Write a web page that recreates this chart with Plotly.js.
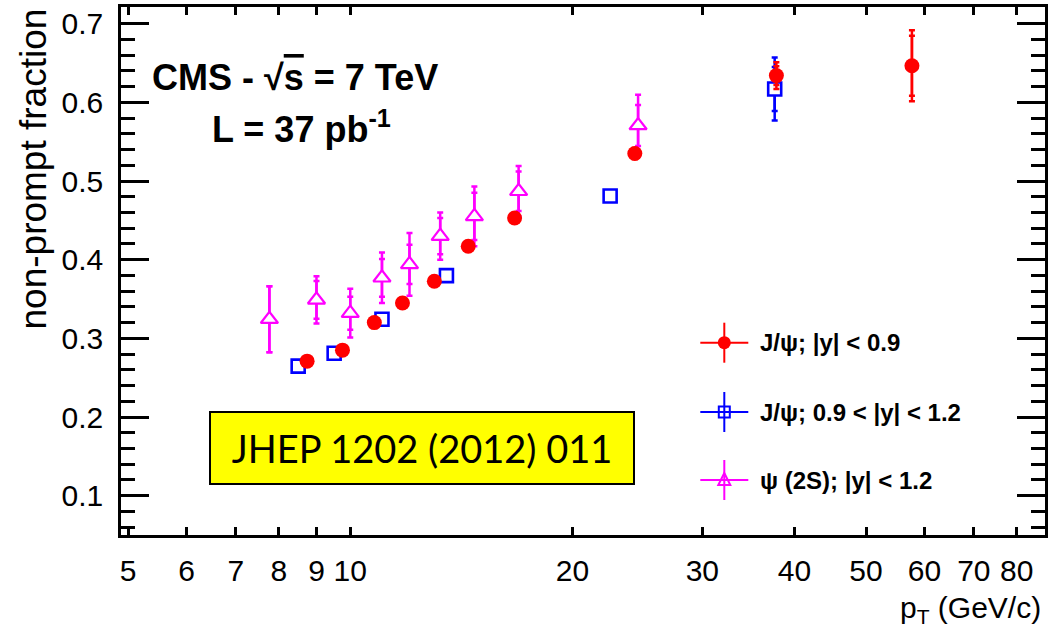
<!DOCTYPE html>
<html>
<head>
<meta charset="utf-8">
<script src="https://cdn.plot.ly/plotly-3.0.1.min.js"></script>
<style>
  html, body { margin: 0; padding: 0; background: #fff; }
  #chart { width: 1061px; height: 634px; }
</style>
</head>
<body>
<div id="chart"></div>
<script>
// ---- data ----
const seriesNames = ["J/ψ; |y| < 0.9", "J/ψ; 0.9 < |y| < 1.2", "ψ (2S); |y| < 1.2"];

const jpsiCentralPt   = [8.74, 9.76, 10.78, 11.77, 13.0, 14.45, 16.7, 24.3, 37.8, 57.7];
const jpsiCentralFrac = [0.271, 0.285, 0.320, 0.345, 0.3725, 0.417, 0.453, 0.535, 0.634, 0.6465];
const jpsiCentralTot  = [0.005, 0.005, 0.005, 0.005, 0.005, 0.006, 0.006, 0.007, 0.017, 0.045];
const jpsiCentralStat = [0.004, 0.004, 0.004, 0.004, 0.004, 0.005, 0.005, 0.006, 0.012, 0.038];

const jpsiFwdPt   = [8.50, 9.51, 11.04, 13.5, 22.5, 37.6];
const jpsiFwdFrac = [0.2647, 0.281, 0.3243, 0.3797, 0.481, 0.617];
const jpsiFwdTot  = [0.005, 0.005, 0.005, 0.006, 0.007, 0.040];
const jpsiFwdStat = [0.004, 0.004, 0.004, 0.005, 0.006, 0.028];

const psi2SPt   = [7.77, 9.0, 10.0, 11.04, 12.03, 13.24, 14.73, 16.91, 24.55];
const psi2SFrac = [0.3243, 0.349, 0.332, 0.377, 0.394, 0.430, 0.455, 0.487, 0.5706];
const psi2STot  = [0.042, 0.030, 0.031, 0.032, 0.040, 0.030, 0.038, 0.032, 0.039];
const psi2SStat = [0.042, 0.024, 0.021, 0.024, 0.025, 0.023, 0.030, 0.025, 0.026];

const xTickVals = [5, 6, 7, 8, 9, 10, 20, 30, 40, 50, 60, 70, 80];
const xTickText = ["5", "6", "7", "8", "9", "10", "20", "30", "40", "50", "60", "70", "80"];

// ---- styling ----
const RED = "#ff0000", BLUE = "#0000ff", MAG = "#ff00ff";
const SANS = "Liberation Sans, Arial, Helvetica, sans-serif";

// plot-area pixel frame (used only for placing decorations)
const L = 121, R = 16, T = 7, B = 99, W = 1061, H = 634;
const pw = W - L - R, ph = H - T - B;
const px = v => (v - L) / pw;
const py = v => (H - B - v) / ph;

function mainTrace(x, y, err, color, symbol, size, lw, fill) {
  return {
    type: "scatter", mode: "markers", x: x, y: y,
    marker: { color: fill, symbol: symbol, size: size, line: { color: color, width: lw } },
    error_y: { type: "data", array: err, visible: true, color: color, thickness: 2.5, width: 3 },
    showlegend: false, hoverinfo: "x+y"
  };
}
function statTrace(x, y, err, color) {
  return {
    type: "scatter", mode: "markers", x: x, y: y,
    marker: { color: "rgba(0,0,0,0)", size: 1 },
    error_y: { type: "data", array: err, visible: true, color: color, thickness: 2.5, width: 3 },
    showlegend: false, hoverinfo: "skip"
  };
}

const data = [
  statTrace(psi2SPt, psi2SFrac, psi2SStat, MAG),
  mainTrace(psi2SPt, psi2SFrac, psi2STot, MAG, "triangle-up", 15, 2.2, "#ffffff"),
  statTrace(jpsiFwdPt, jpsiFwdFrac, jpsiFwdStat, BLUE),
  mainTrace(jpsiFwdPt, jpsiFwdFrac, jpsiFwdTot, BLUE, "square", 13, 2.6, "#ffffff"),
  statTrace(jpsiCentralPt, jpsiCentralFrac, jpsiCentralStat, RED),
  mainTrace(jpsiCentralPt, jpsiCentralFrac, jpsiCentralTot, RED, "circle", 15, 0, RED)
];

// ---- hand-built ROOT-style legend ----
const legendRows = [
  { y: 342.7, color: RED, kind: "circle" },
  { y: 412.0, color: BLUE, kind: "square" },
  { y: 480.0, color: MAG, kind: "triangle" }
];
const legX = 724.3, legTextX = 758;
const shapes = [];
const annotations = [];
legendRows.forEach((row, i) => {
  const xa = px(legX), ya = py(row.y);
  shapes.push({ type: "line", xref: "paper", yref: "paper", xsizemode: "pixel", ysizemode: "pixel",
    xanchor: xa, yanchor: ya, x0: -24, x1: 24, y0: 0, y1: 0, line: { color: row.color, width: 2 } });
  shapes.push({ type: "line", xref: "paper", yref: "paper", xsizemode: "pixel", ysizemode: "pixel",
    xanchor: xa, yanchor: ya, x0: 0, x1: 0, y0: -20, y1: 20, line: { color: row.color, width: 2 } });
  if (row.kind === "circle") {
    shapes.push({ type: "circle", xref: "paper", yref: "paper", xsizemode: "pixel", ysizemode: "pixel",
      xanchor: xa, yanchor: ya, x0: -6.5, x1: 6.5, y0: -6.5, y1: 6.5, fillcolor: row.color, line: { color: row.color, width: 0 } });
  } else if (row.kind === "square") {
    shapes.push({ type: "rect", xref: "paper", yref: "paper", xsizemode: "pixel", ysizemode: "pixel",
      xanchor: xa, yanchor: ya, x0: -5.5, x1: 5.5, y0: -5.5, y1: 5.5, fillcolor: "rgba(0,0,0,0)", line: { color: row.color, width: 2 } });
  } else {
    shapes.push({ type: "path", xref: "paper", yref: "paper", xsizemode: "pixel", ysizemode: "pixel",
      xanchor: xa, yanchor: ya, path: "M -6 -5 L 6 -5 L 0 7 Z", fillcolor: "rgba(0,0,0,0)", line: { color: row.color, width: 2 } });
  }
  annotations.push({ xref: "paper", yref: "paper", x: px(legTextX), y: ya, xanchor: "left", yanchor: "middle",
    text: "<b>" + seriesNames[i] + "</b>", showarrow: false, font: { family: SANS, size: 24, color: "#000" } });
});

// long tick at 10 (ROOT decade tick), bottom and top
shapes.push({ type: "line", xref: "x", yref: "paper", ysizemode: "pixel", yanchor: 0, x0: 1, x1: 1, y0: 0, y1: 16,
  line: { color: "#000", width: 2.5 } });
shapes.push({ type: "line", xref: "x", yref: "paper", ysizemode: "pixel", yanchor: 1, x0: 1, x1: 1, y0: -16, y1: 0,
  line: { color: "#000", width: 2.5 } });

annotations.push(
  { xref: "paper", yref: "paper", x: px(150), y: py(77), xanchor: "left", yanchor: "middle", showarrow: false,
    text: "<b>CMS - √<span style='text-decoration:overline'>s</span> = 7 TeV</b>", font: { family: SANS, size: 36, color: "#000" } },
  { xref: "paper", yref: "paper", x: px(210), y: py(127), xanchor: "left", yanchor: "middle", showarrow: false,
    text: "<b>L = 37 pb<sup>-1</sup></b>", font: { family: SANS, size: 36, color: "#000" } },
  { xref: "paper", yref: "paper", x: px(421.8), y: py(448), xanchor: "center", yanchor: "middle", showarrow: false,
    text: "JHEP 1202 (2012) 011", font: { family: "Lato, Open Sans, sans-serif", size: 38, color: "#000" },
    bgcolor: "#ffff00", bordercolor: "#000", borderwidth: 2, borderpad: 0, width: 422, height: 70, align: "center", valign: "middle" },
  { xref: "paper", yref: "paper", x: px(33), y: 1, xanchor: "center", yanchor: "top", showarrow: false, textangle: -90,
    text: "non-prompt fraction", font: { family: SANS, size: 37, color: "#000" } },
  { xref: "paper", yref: "paper", x: px(1043), y: py(609), xanchor: "right", yanchor: "middle", showarrow: false,
    text: "p<sub>T</sub> (GeV/c)", font: { family: SANS, size: 30, color: "#000" } }
);

const layout = {
  width: W, height: H,
  margin: { l: L, r: R, t: T, b: B, pad: 0 },
  paper_bgcolor: "#fff", plot_bgcolor: "#fff",
  showlegend: false,
  xaxis: {
    type: "log", range: [Math.log10(4.89), Math.log10(87.4)],
    tickmode: "array", tickvals: xTickVals, ticktext: xTickText,
    ticks: "inside", ticklen: 8, tickwidth: 2.5, tickcolor: "#000",
    showline: true, linecolor: "#000", linewidth: 2.5, mirror: "ticks",
    showgrid: false, zeroline: false,
    tickfont: { family: SANS, size: 30, color: "#000" },
    ticklabelstandoff: 7
  },
  yaxis: {
    range: [0.05, 0.7212], tick0: 0.1, dtick: 0.1, tickformat: ".1f",
    ticks: "inside", ticklen: 28, tickwidth: 2.5, tickcolor: "#000",
    minor: { dtick: 0.02, tick0: 0, ticks: "inside", ticklen: 14, tickwidth: 2.5, tickcolor: "#000", showgrid: false },
    showline: true, linecolor: "#000", linewidth: 2.5, mirror: "ticks",
    showgrid: false, zeroline: false,
    tickfont: { family: SANS, size: 30, color: "#000" },
    ticklabelstandoff: 9
  },
  shapes: shapes,
  annotations: annotations
};

Plotly.newPlot("chart", data, layout, { displayModeBar: false, responsive: false });
</script>
</body>
</html>
